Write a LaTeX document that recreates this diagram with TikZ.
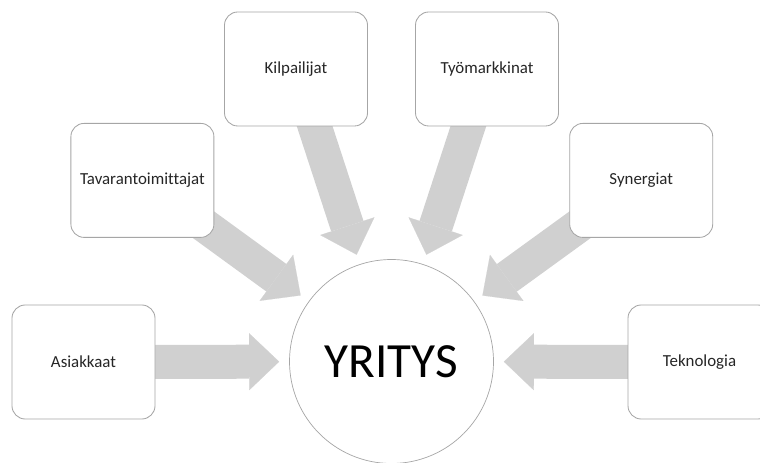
\documentclass[tikz,border=0pt]{standalone}
\usepackage{fontspec}
\setmainfont{Carlito}[Ligatures=CommonOff]
\usetikzlibrary{arrows.meta,backgrounds}
\definecolor{boxline}{RGB}{166,166,166}
\definecolor{flowgray}{RGB}{208,208,208}
\begin{document}
\begin{tikzpicture}[scale=1]
      \tikzstyle{box}=[draw=boxline, line width=0.6pt, fill=white, rounded corners=0.33cm, minimum width=3.575cm, minimum height=2.85cm, text=black!85, font=\fontsize{12}{14}\selectfont]
      \tikzstyle{flow}=[draw=flowgray, line width=0.85cm, -{Triangle[length=0.75cm, width=1.425cm, line width=0.1pt]}, shorten >=0.25cm, shorten <=-0.6cm]
      \useasboundingbox (0,0) rectangle (19,11.55);
      % centre and the six boxes round it
      \node[circle, draw=boxline, line width=0.5pt, fill=white, minimum size=5.1cm, font=\fontsize{35}{40}\selectfont] (yritys) at (9.7875,2.5125) {YRITYS};
      \node[box] (asiakkaat) at (2.0875,2.5) {Asiakkaat};
      \node[box] (tavaran) at (3.56,7.04) {Tavarantoimittajat};
      \node[box] (kilpailijat) at (7.4,9.825) {Kilpailijat};
      \node[box] (tyomarkkinat) at (12.175,9.825) {Työmarkkinat};
      \node[box] (synergiat) at (16.03,7.04) {Synergiat};
      \node[box] (teknologia) at (17.4875,2.5) {Teknologia};
      % block arrows behind the boxes
      \begin{scope}[on background layer]
        \draw[flow] (asiakkaat) -- (yritys);
        \draw[flow] (tavaran) -- (yritys);
        \draw[flow] (kilpailijat) -- (yritys);
        \draw[flow] (tyomarkkinat) -- (yritys);
        \draw[flow] (synergiat) -- (yritys);
        \draw[flow] (teknologia) -- (yritys);
      \end{scope}
    \end{tikzpicture}
\end{document}
